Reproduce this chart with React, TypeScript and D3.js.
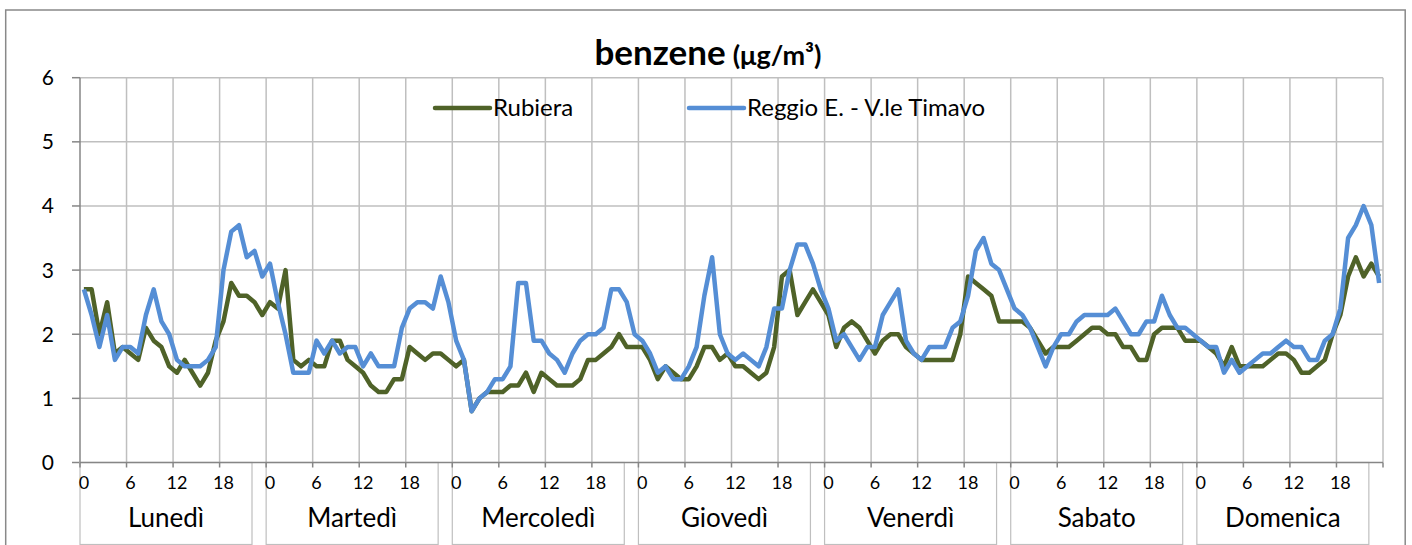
import React from "react";
import * as d3 from "d3";

const days = ["Lunedì", "Martedì", "Mercoledì", "Giovedì", "Venerdì", "Sabato", "Domenica"];
const hourTicks = [0, 6, 12, 18];
const yTicks = [0, 1, 2, 3, 4, 5, 6];

const rubiera = [
  2.7, 2.7, 2.0, 2.5, 1.7, 1.8, 1.7, 1.6, 2.1, 1.9, 1.8, 1.5, 1.4, 1.6, 1.4, 1.2, 1.4, 1.9, 2.2, 2.8, 2.6, 2.6, 2.5, 2.3,
  2.5, 2.4, 3.0, 1.6, 1.5, 1.6, 1.5, 1.5, 1.9, 1.9, 1.6, 1.5, 1.4, 1.2, 1.1, 1.1, 1.3, 1.3, 1.8, 1.7, 1.6, 1.7, 1.7, 1.6,
  1.5, 1.6, 0.8, 1.0, 1.1, 1.1, 1.1, 1.2, 1.2, 1.4, 1.1, 1.4, 1.3, 1.2, 1.2, 1.2, 1.3, 1.6, 1.6, 1.7, 1.8, 2.0, 1.8, 1.8,
  1.8, 1.6, 1.3, 1.5, 1.4, 1.3, 1.3, 1.5, 1.8, 1.8, 1.6, 1.7, 1.5, 1.5, 1.4, 1.3, 1.4, 1.8, 2.9, 3.0, 2.3, 2.5, 2.7, 2.5,
  2.3, 1.8, 2.1, 2.2, 2.1, 1.9, 1.7, 1.9, 2.0, 2.0, 1.8, 1.7, 1.6, 1.6, 1.6, 1.6, 1.6, 2.0, 2.9, 2.8, 2.7, 2.6, 2.2, 2.2,
  2.2, 2.2, 2.1, 1.9, 1.7, 1.8, 1.8, 1.8, 1.9, 2.0, 2.1, 2.1, 2.0, 2.0, 1.8, 1.8, 1.6, 1.6, 2.0, 2.1, 2.1, 2.1, 1.9, 1.9,
  1.9, 1.8, 1.7, 1.5, 1.8, 1.5, 1.5, 1.5, 1.5, 1.6, 1.7, 1.7, 1.6, 1.4, 1.4, 1.5, 1.6, 2.0, 2.3, 2.9, 3.2, 2.9, 3.1, 2.9,
];

const reggio = [
  2.7, 2.3, 1.8, 2.3, 1.6, 1.8, 1.8, 1.7, 2.3, 2.7, 2.2, 2.0, 1.6, 1.5, 1.5, 1.5, 1.6, 1.8, 3.0, 3.6, 3.7, 3.2, 3.3, 2.9,
  3.1, 2.5, 2.0, 1.4, 1.4, 1.4, 1.9, 1.7, 1.9, 1.7, 1.8, 1.8, 1.5, 1.7, 1.5, 1.5, 1.5, 2.1, 2.4, 2.5, 2.5, 2.4, 2.9, 2.5,
  1.9, 1.6, 0.8, 1.0, 1.1, 1.3, 1.3, 1.5, 2.8, 2.8, 1.9, 1.9, 1.7, 1.6, 1.4, 1.7, 1.9, 2.0, 2.0, 2.1, 2.7, 2.7, 2.5, 2.0,
  1.9, 1.7, 1.4, 1.5, 1.3, 1.3, 1.5, 1.8, 2.6, 3.2, 2.0, 1.7, 1.6, 1.7, 1.6, 1.5, 1.8, 2.4, 2.4, 3.0, 3.4, 3.4, 3.1, 2.7,
  2.4, 1.9, 2.0, 1.8, 1.6, 1.8, 1.8, 2.3, 2.5, 2.7, 1.9, 1.7, 1.6, 1.8, 1.8, 1.8, 2.1, 2.2, 2.6, 3.3, 3.5, 3.1, 3.0, 2.7,
  2.4, 2.3, 2.1, 1.8, 1.5, 1.8, 2.0, 2.0, 2.2, 2.3, 2.3, 2.3, 2.3, 2.4, 2.2, 2.0, 2.0, 2.2, 2.2, 2.6, 2.3, 2.1, 2.1, 2.0,
  1.9, 1.8, 1.8, 1.4, 1.6, 1.4, 1.5, 1.6, 1.7, 1.7, 1.8, 1.9, 1.8, 1.8, 1.6, 1.6, 1.9, 2.0, 2.4, 3.5, 3.7, 4.0, 3.7, 2.8,
];

const seriesNames = ["Rubiera", "Reggio E. - V.le Timavo"];
const seriesColors = ["#4F6228", "#558ED5"];

const FONT = "Lato, 'Open Sans', sans-serif";

export default function App() {
  const W = 1412, H = 545;
  const left = 80, right = 1383, top = 77.7, bottom = 462.5;
  const nHours = days.length * 24;
  const x = d3.scaleLinear().domain([0, nHours]).range([left, right]);
  const y = d3.scaleLinear().domain([0, 6]).range([bottom, top]);
  const line = d3
    .line<number>()
    .x((_, i) => x(i + 0.5))
    .y((d) => y(d));

  const gridX: number[] = [];
  for (let h = 0; h <= nHours; h += 6) gridX.push(h);

  const grid = "#BFBFBF";
  const axis = "#868686";

  return (
    <svg width={W} height={H} style={{ position: "absolute", left: 0, top: 0, background: "#fff" }} fontFamily={FONT}>
      <rect x={0} y={0} width={W} height={H} fill="#fff" />
      <rect x={5.7} y={10} width={1399.5} height={H + 10} fill="none" stroke="#898989" strokeWidth={1.5} />

      {/* horizontal grid */}
      {yTicks.filter((t) => t > 0).map((t) => (
        <line key={"hy" + t} x1={left} x2={right} y1={y(t)} y2={y(t)} stroke={grid} strokeWidth={1.5} />
      ))}
      {/* vertical grid */}
      {gridX.filter((h) => h > 0).map((h) => (
        <line key={"vx" + h} x1={x(h)} x2={x(h)} y1={top} y2={bottom} stroke={grid} strokeWidth={1.5} />
      ))}

      {/* title */}
      <text x={708} y={65} textAnchor="middle" fontWeight="bold" fill="#000">
        <tspan fontSize={35}>benzene</tspan>
        <tspan fontSize={27} dx={7}>(μg/m³)</tspan>
      </text>

      {/* legend */}
      {seriesNames.map((n, i) => {
        const lx = i === 0 ? 435 : 689;
        return (
          <g key={n}>
            <line x1={lx} x2={lx + 55} y1={108} y2={108} stroke={seriesColors[i]} strokeWidth={4.5} strokeLinecap="round" />
            <text x={lx + 58} y={116} fontSize={24} fill="#000">{n}</text>
          </g>
        );
      })}

      {/* series */}
      <path d={line(rubiera) || ""} fill="none" stroke={seriesColors[0]} strokeWidth={4.5} strokeLinejoin="round" />
      <path d={line(reggio) || ""} fill="none" stroke={seriesColors[1]} strokeWidth={4.5} strokeLinejoin="round" />

      {/* y axis */}
      <line x1={left} x2={left} y1={top} y2={bottom} stroke={axis} strokeWidth={1.5} />
      {yTicks.map((t) => (
        <g key={"yt" + t}>
          <line x1={left - 8} x2={left} y1={y(t)} y2={y(t)} stroke={axis} strokeWidth={1.5} />
          <text x={54} y={y(t) + 7.5} textAnchor="end" fontSize={21} fill="#000">{t}</text>
        </g>
      ))}

      {/* x axis */}
      {days.map((d, di) => {
        const x0 = x(di * 24);
        return (
          <g key={d}>
            <rect x={x0} y={bottom} width={172} height={82} fill="none" stroke={grid} strokeWidth={1.2} />
            {hourTicks.map((h) => (
              <text key={h} x={x(di * 24 + h + 0.5)} y={489} textAnchor="middle" fontSize={18} fill="#000">{h}</text>
            ))}
            <text x={x0 + 86} y={527} textAnchor="middle" fontSize={26} fill="#000">{d}</text>
          </g>
        );
      })}
      <line x1={left} x2={right} y1={bottom} y2={bottom} stroke={axis} strokeWidth={1.5} />
      {gridX.map((h) => (
        <line key={"xt" + h} x1={x(h)} x2={x(h)} y1={bottom} y2={bottom + 5} stroke={axis} strokeWidth={1.5} />
      ))}
    </svg>
  );
}
